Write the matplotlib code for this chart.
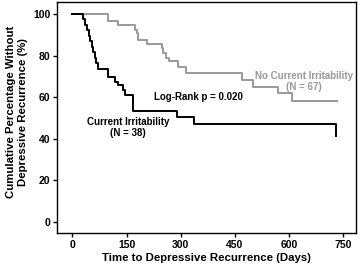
import numpy as np
import matplotlib.pyplot as plt

plt.rcParams['font.family'] = ['Liberation Sans', 'DejaVu Sans']
plt.rcParams['font.weight'] = 'bold'

# Current Irritability (N = 38)
cur_days = [0, 30, 35, 40, 45, 50, 55, 58, 62, 66, 72, 100, 118, 127, 141, 146, 167, 289, 338, 730, 730]
cur_surv = [100, 97.4, 94.7, 92.1, 89.5, 86.8, 84.2, 81.6, 78.9, 76.3, 73.4, 69.8, 67.4, 65.8, 63.4, 61.1, 53.3, 50.6, 47.0, 47.0, 41.3]

# No Current Irritability (N = 67)
no_days = [0, 100, 127, 174, 178, 183, 206, 247, 252, 258, 268, 293, 315, 469, 500, 570, 607, 732]
no_surv = [100, 96.5, 94.5, 92.5, 90.8, 87.3, 85.5, 83.6, 81.1, 79.0, 77.2, 74.3, 71.8, 68.2, 65.0, 61.8, 58.1, 58.1]

xticks = [0, 150, 300, 450, 600, 750]
yticks = [0, 20, 40, 60, 80, 100]

fig = plt.figure(figsize=(3.61, 2.66), dpi=100)
ax = fig.add_axes([0.1587, 0.1241, 0.8266, 0.8695])

ax.step(no_days, no_surv, where='post', color='#999999', lw=1.4)
ax.step(cur_days, cur_surv, where='post', color='black', lw=1.4)

ax.set_xlim(-41.5, 784)
ax.set_ylim(-5.4, 105.9)
ax.set_xticks(xticks)
ax.set_yticks(yticks)
ax.tick_params(labelsize=7.5, length=3, width=1, pad=2)
for s in ax.spines.values():
    s.set_linewidth(1)

ax.text(642, 67.5, 'No Current Irritability\n(N = 67)', color='#999999',
        fontsize=7, ha='center', va='center', multialignment='center')
ax.text(348, 60.2, 'Log-Rank p = 0.020', fontsize=7, ha='center', va='center')
ax.text(154, 45.4, 'Current Irritability\n(N = 38)', fontsize=7,
        ha='center', va='center', multialignment='center')

fig.text(207 / 361, 1 - 258 / 266, 'Time to Depressive Recurrence (Days)',
         fontsize=8.2, ha='center', va='center')
fig.text(17 / 361, 1 - 112 / 266, 'Cumulative Percentage Without\nDepressive Recurrence (%)',
         fontsize=8.2, ha='center', va='center', rotation=90, multialignment='center',
         linespacing=1.3)

fig.savefig('out.png', dpi=100)
